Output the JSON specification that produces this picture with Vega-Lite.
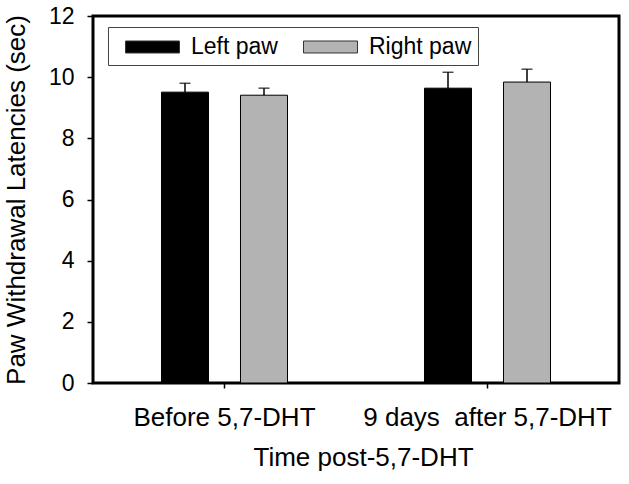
{
  "$schema": "https://vega.github.io/schema/vega-lite/v6.json",
  "autosize": {"type": "none"},
  "padding": {"left": 93, "top": 16, "right": 10, "bottom": 101},
  "width": 526,
  "height": 367,
  "background": "white",
  "config": {
    "font": "Liberation Sans",
    "view": {"stroke": "black", "strokeWidth": 3},
    "axis": {"labelFont": "Liberation Sans", "titleFont": "Liberation Sans", "labelColor": "black", "titleColor": "black", "titleFontWeight": "normal", "grid": false, "tickColor": "black", "domain": false, "labelLimit": 0}
  },
  "data": {"values": [
    {"time": "Before 5,7-DHT", "paw": "Left paw", "mean": 9.51, "upper": 9.80},
    {"time": "Before 5,7-DHT", "paw": "Right paw", "mean": 9.41, "upper": 9.64},
    {"time": "9 days\u00a0 after 5,7-DHT", "paw": "Left paw", "mean": 9.64, "upper": 10.16},
    {"time": "9 days\u00a0 after 5,7-DHT", "paw": "Right paw", "mean": 9.84, "upper": 10.26}
  ]},
  "encoding": {
    "x": {
      "field": "time", "type": "nominal", "sort": null,
      "scale": {"paddingInner": 0, "paddingOuter": 0},
      "axis": {
        "title": "Time post-5,7-DHT", "labelAngle": 0, "labelFontSize": 26, "labelPadding": 16,
        "tickSize": 5, "tickWidth": 1.5, "titleFontSize": 26,
        "titleX": 270, "titleY": 61, "titleBaseline": "top"
      }
    },
    "xOffset": {
      "field": "paw", "type": "nominal",
      "scale": {"domain": ["Left paw", "Right paw"], "paddingInner": 0.405, "paddingOuter": 0.867}
    }
  },
  "layer": [
    {
      "mark": {"type": "bar", "stroke": "black", "strokeWidth": 1},
      "encoding": {
        "y": {
          "field": "mean", "type": "quantitative",
          "scale": {"domain": [0, 12], "nice": false},
          "axis": {
            "title": "Paw Withdrawal Latencies (sec)", "values": [0, 2, 4, 6, 8, 10, 12],
            "labelFontSize": 23, "labelPadding": 13, "tickSize": 6, "tickWidth": 1.5,
            "titleFontSize": 26, "titleX": -64, "titleBaseline": "bottom"
          }
        },
        "color": {
          "field": "paw", "type": "nominal",
          "scale": {"domain": ["Left paw", "Right paw"], "range": ["#000000", "#b3b3b3"]},
          "legend": {
            "title": null, "orient": "none", "legendX": 15, "legendY": 11, "direction": "horizontal",
            "strokeColor": "#444444", "fillColor": "white", "padding": 6,
            "symbolType": "M-2,-0.444H2V0.444H-2Z", "symbolSize": 729,
            "symbolStrokeColor": "#333333", "symbolStrokeWidth": 1, "symbolOffset": 24.5,
            "labelFontSize": 23, "labelColor": "black", "labelOffset": 24.5, "columnPadding": 14,
            "labelFont": "Liberation Sans"
          }
        }
      }
    },
    {
      "mark": {"type": "rule", "color": "black", "strokeWidth": 1.5},
      "encoding": {
        "y": {"field": "mean", "type": "quantitative"},
        "y2": {"field": "upper"}
      }
    },
    {
      "mark": {"type": "tick", "color": "black", "size": 11, "thickness": 1.5, "orient": "horizontal"},
      "encoding": {
        "y": {"field": "upper", "type": "quantitative"}
      }
    }
  ]
}
